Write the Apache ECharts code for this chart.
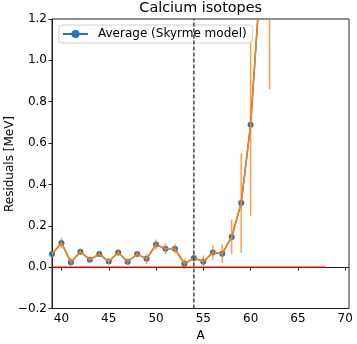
<!DOCTYPE html>
<html>
<head>
<meta charset="utf-8">
<script src="https://cdn.jsdelivr.net/npm/echarts@6/dist/echarts.min.js"></script>
<style>
  html, body { margin: 0; padding: 0; background: #fff; }
  #chart { width: 357px; height: 344px; }
</style>
</head>
<body>
<div id="chart"></div>
<script>
// mass number A
const massNumbers = [39, 40, 41, 42, 43, 44, 45, 46, 47, 48, 49, 50, 51, 52, 53, 54, 55, 56, 57, 58, 59, 60, 61, 62]
// average residuals (Skyrme model), MeV
const residuals = [0.063, 0.117, 0.024, 0.075, 0.036, 0.063, 0.027, 0.071, 0.026, 0.063, 0.040, 0.109, 0.089, 0.089, 0.016, 0.044, 0.026, 0.071, 0.065, 0.146, 0.31, 0.689, 1.37, 1.9]
// error bar half widths
const errors = [0.015, 0.025, 0.02, 0.015, 0.015, 0.012, 0.012, 0.015, 0.012, 0.015, 0.025, 0.025, 0.025, 0.022, 0.025, 0.02, 0.03, 0.035, 0.045, 0.085, 0.24, 0.44, 0.1, 1.04]
// reference lines
const zeroLine = [[39, 0], [68, 0]]
const dripLineA = 54
const xTicks = [40, 45, 50, 55, 60, 65, 70]

const FONT = 'DejaVu Sans'
const points = massNumbers.map((a, i) => [a, residuals[i]])
const bars = massNumbers.map((a, i) => [a, residuals[i], errors[i]])

const chart = echarts.init(document.getElementById('chart'))
chart.setOption({
  animation: false,
  textStyle: { fontFamily: FONT },
  grid: {
    left: 52, right: 8, top: 19, bottom: 35.5,
    show: true, borderColor: '#222', borderWidth: 1,
    outerBoundsMode: 'none'
  },
  graphic: [{
    type: 'text', x: 200.7, y: 1,
    style: { text: 'Calcium isotopes', font: '14.4px "DejaVu Sans"', fill: '#000', textAlign: 'center' }
  }, {
    // y axis title, placed by hand so the axis does not shift it
    type: 'text', x: 10, y: 164, rotation: Math.PI / 2,
    style: { text: 'Residuals [MeV]', font: '12px "DejaVu Sans"', fill: '#000', textAlign: 'center', textVerticalAlign: 'middle' }
  }],
  legend: {
    data: ['Average (Skyrme model)'],
    left: 59, top: 25,
    padding: [3, 6, 3, 3],
    itemWidth: 25, itemHeight: 10,
    borderColor: '#d0d0d0', borderWidth: 1, borderRadius: 3,
    backgroundColor: 'rgba(255,255,255,0.8)',
    textStyle: { fontSize: 12, color: '#000', fontFamily: FONT, padding: [0, 0, 0, 5] }
  },
  xAxis: {
    type: 'value', min: 39, max: 70.4,
    name: 'A', nameLocation: 'middle', nameGap: 17,
    nameTextStyle: { fontSize: 12, color: '#000', fontFamily: FONT },
    axisLine: { show: true, lineStyle: { color: '#222', width: 1 } },
    axisTick: { show: true, customValues: xTicks, length: 3.5, lineStyle: { color: '#222' } },
    axisLabel: { customValues: xTicks, fontSize: 12, color: '#000', margin: 4, fontFamily: FONT },
    splitLine: { show: false }
  },
  yAxis: {
    type: 'value', min: -0.2, max: 1.2, interval: 0.2,
    axisLine: { show: true, lineStyle: { color: '#222', width: 1 } },
    axisTick: { show: true, length: 3.5, lineStyle: { color: '#222' } },
    axisLabel: {
      fontSize: 12, color: '#000', margin: 5, fontFamily: FONT,
      formatter: v => v.toFixed(1).replace('-', '\u2212')
    },
    splitLine: { show: false }
  },
  series: [
    {
      name: 'Average (Skyrme model)',
      type: 'line',
      data: points,
      color: '#1f77b4',
      symbol: 'circle', symbolSize: 6,
      lineStyle: { width: 1.5, color: '#1f77b4' },
      itemStyle: { color: '#1f77b4' },
      z: 2
    },
    {
      name: 'errors',
      type: 'custom',
      data: bars,
      encode: { x: 0, y: 1 },
      clip: true,
      z: 3,
      renderItem: function (params, api) {
        const a = api.value(0)
        const v = api.value(1)
        const e = api.value(2)
        const lo = api.coord([a, v - e])
        const hi = api.coord([a, v + e])
        return {
          type: 'line',
          shape: { x1: lo[0], y1: lo[1], x2: hi[0], y2: hi[1] },
          style: { stroke: '#ff7f0e', lineWidth: 1.5, opacity: 0.75 }
        }
      }
    },
    {
      name: 'errline',
      type: 'line',
      data: points,
      symbol: 'none',
      lineStyle: { width: 1.5, color: '#ff7f0e' },
      z: 4
    },
    {
      name: 'zero',
      type: 'line',
      data: zeroLine,
      symbol: 'none',
      lineStyle: { width: 1.2, color: '#ff0000' },
      z: 5
    },
    {
      name: 'drip',
      type: 'line',
      data: [[dripLineA, -0.2], [dripLineA, 1.2]],
      symbol: 'none',
      lineStyle: { width: 1.5, color: '#444', type: [4, 2] },
      z: 6
    }
  ]
})
</script>
</body>
</html>
